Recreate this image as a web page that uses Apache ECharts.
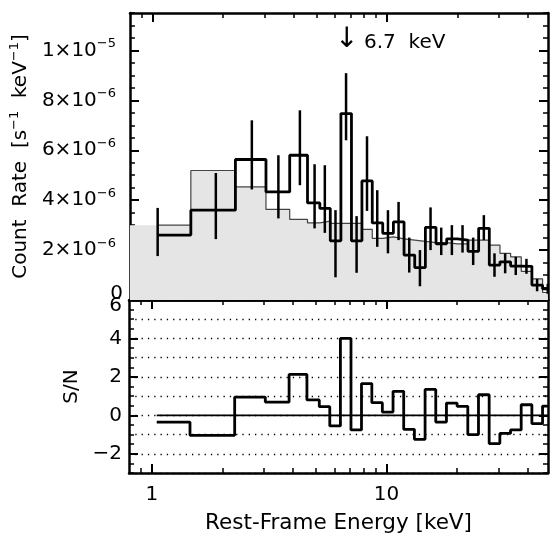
<!DOCTYPE html>
<html>
<head>
<meta charset="utf-8">
<script src="https://cdn.jsdelivr.net/npm/echarts@6/dist/echarts.min.js"></script>
<style>
  html, body { margin: 0; padding: 0; background: #fff; }
  #chart { width: 550px; height: 535px; }
</style>
</head>
<body>
<div id="chart"></div>
<script>
// bin centres, keV (histogram edges are the linear midpoints, IDL psym=10 style)
const energy = [1.05, 1.86, 2.65, 3.44, 4.25, 4.91, 5.43, 6.03, 6.69, 7.42,
  8.22, 9.09, 10.10, 11.21, 12.45, 13.83, 15.35, 17.05, 18.93, 21.02,
  23.34, 25.92, 28.78, 31.96, 35.48, 39.40, 43.75, 48.58]
// count rate, units of 1e-6 s^-1 keV^-1
const rate = [2.60, 3.60, 5.63, 4.33, 5.80, 3.89, 3.67, 2.37, 7.47, 2.37,
  4.77, 3.09, 2.67, 3.13, 1.80, 1.30, 2.91, 2.25, 2.45, 2.40,
  1.95, 2.87, 1.40, 1.53, 1.36, 1.35, 0.60, 0.45]
const rateLo = [1.76, 2.44, 4.43, 3.27, 4.60, 2.87, 2.69, 0.91, 6.40, 1.09,
  3.57, 2.13, 1.87, 2.40, 1.10, 0.55, 2.00, 1.80, 1.80, 1.90,
  1.40, 2.40, 0.93, 1.07, 1.00, 1.05, 0.35, 0.25]
const rateHi = [3.69, 5.09, 7.20, 5.80, 7.60, 5.44, 5.40, 3.60, 9.09, 3.36,
  6.56, 4.40, 3.60, 3.93, 2.50, 2.00, 3.71, 2.90, 3.00, 3.00,
  2.50, 3.40, 1.87, 1.87, 1.73, 1.65, 0.85, 0.65]
// model, same bins
const model = [3.00, 5.19, 4.53, 3.63, 3.23, 3.09, 3.16, 3.07, 3.07, 3.07,
  2.83, 2.47, 2.53, 2.45, 2.40, 2.35, 2.30, 2.30, 2.25, 2.25,
  2.40, 2.40, 2.20, 1.87, 1.73, 1.15, 0.85, 0.30]
// signal to noise per bin
const snr = [-0.35, -1.04, 0.95, 0.69, 2.13, 0.80, 0.45, -0.55, 4.00, -0.76,
  1.65, 0.66, 0.17, 1.25, -0.73, -1.25, 1.35, -0.35, 0.64, 0.47,
  -1.00, 1.07, -1.47, -0.94, -0.76, 0.55, -0.43, 0.48]

const xMajor = [1, 10]
const xMinor = [0.9, 2, 3, 4, 5, 6, 7, 8, 9, 20, 30, 40]
const rateTicks = [0, 2, 4, 6, 8, 10]
const snrTicks = [-2, 0, 2, 4, 6]

const X_MIN = 0.8, X_MAX = 48.7
const FONT = 'DejaVu Sans'

// histogram edges: midpoints between centres, first/last bins half width
function edges (x) {
  const e = [x[0]]
  for (let i = 1; i < x.length; i++) e.push((x[i - 1] + x[i]) / 2)
  e.push(x[x.length - 1])
  return e
}
function steps (x, y) {
  const e = edges(x)
  const pts = []
  y.forEach((v, i) => { pts.push([e[i], v], [e[i + 1], v]) })
  return pts
}

const modelFill = [[X_MIN, model[0]]].concat(steps(energy, model), [[X_MAX, model[model.length - 1]]])

function rateLabel (v) {
  if (v === 0) return '{z|0}'
  const val = v * 1e-6
  const ex = Math.floor(Math.log10(val) + 1e-9)
  const m = Math.round(val / Math.pow(10, ex))
  return '{b|' + m + '×10}{sl|−' + (-ex) + '}'
}
const rich = {
  b: { fontFamily: FONT, fontSize: 20, color: '#000', lineHeight: 26 },
  s: { fontFamily: FONT, fontSize: 13, color: '#000', verticalAlign: 'top', lineHeight: 13 },
  sl: { fontFamily: FONT, fontSize: 13, color: '#000', verticalAlign: 'top', lineHeight: 13, padding: [0, 7, 0, 0] },
  z: { fontFamily: FONT, fontSize: 20, color: '#000', padding: [0, 0, 12, 0] },
  d: { fontFamily: FONT, fontSize: 20, color: '#000', padding: [12, 0, 0, 0] }
}

const axLine = { show: true, onZero: false, lineStyle: { color: '#000', width: 2.5 } }
const noLine = { show: false, onZero: false }
function xAxes (grid, withLabel) {
  const base = { type: 'log', gridIndex: grid, min: X_MIN, max: X_MAX, splitLine: { show: false }, axisLabel: { show: false } }
  const major = { show: true, inside: true, length: 9, customValues: xMajor, lineStyle: { color: '#000', width: 2 } }
  const minor = { show: true, inside: true, length: 5, customValues: xMinor, lineStyle: { color: '#000', width: 1.5 } }
  const out = [
    Object.assign({}, base, { position: 'bottom', axisLine: axLine, axisTick: major }),
    Object.assign({}, base, { position: 'bottom', axisLine: noLine, axisTick: minor }),
    Object.assign({}, base, { position: 'top', axisLine: axLine, axisTick: major }),
    Object.assign({}, base, { position: 'top', axisLine: noLine, axisTick: minor })
  ]
  if (withLabel) {
    out[0].axisLabel = { show: true, customValues: xMajor, fontFamily: FONT, fontSize: 20, color: '#000', margin: 12 }
    out[0].name = 'Rest-Frame Energy [keV]'
    out[0].nameLocation = 'middle'
    out[0].nameGap = 39
    out[0].nameTextStyle = { fontFamily: FONT, fontSize: 21.5, color: '#000' }
  }
  return out
}
function yAxes (grid, min, max, ticks, minorStep) {
  const base = { type: 'value', gridIndex: grid, min: min, max: max, splitLine: { show: false }, axisLabel: { show: false } }
  const major = { show: true, inside: true, length: 9, customValues: ticks, lineStyle: { color: '#000', width: 2 } }
  const minor = { show: true, inside: true, length: 5, lineStyle: { color: '#000', width: 1.5 } }
  return [
    Object.assign({}, base, { position: 'left', axisLine: axLine, axisTick: major }),
    Object.assign({}, base, { position: 'left', interval: minorStep, axisLine: noLine, axisTick: minor }),
    Object.assign({}, base, { position: 'right', axisLine: axLine, axisTick: major }),
    Object.assign({}, base, { position: 'right', interval: minorStep, axisLine: noLine, axisTick: minor })
  ]
}

const xAxis = xAxes(0, false).concat(xAxes(1, true))
const yTop = yAxes(0, 0, 11.5, rateTicks, 0.5)
yTop[0].axisLabel = { show: true, customValues: rateTicks, formatter: rateLabel, rich: rich, margin: 7 }
yTop[0].name = '{n|Count  Rate  [s}{s|−1}{n|  keV}{s|−1}{n|]}'
yTop[0].nameLocation = 'middle'
yTop[0].nameGap = 78
yTop[0].nameTextStyle = { rich: { n: rich.b, s: rich.s } }
const yBot = yAxes(1, -3, 6, snrTicks, 0.5)
yBot[0].axisLabel = {
  show: true, customValues: snrTicks, margin: 7,
  formatter: v => v === 6 ? '{d|6}' : '{b|' + String(v).replace('-', '−') + '}', rich: rich
}
yBot[0].name = 'S/N'
yBot[0].nameLocation = 'middle'
yBot[0].nameGap = 43
yBot[0].nameTextStyle = { fontFamily: FONT, fontSize: 20, color: '#000' }
// dotted reference lines at every integer S/N
yBot.push({ type: 'value', gridIndex: 1, min: -3, max: 6, interval: 1, axisLine: noLine,
  axisTick: { show: false }, axisLabel: { show: false },
  splitLine: { show: true, lineStyle: { color: '#000', width: 1.3, type: [1.3, 5] } } })

const chart = echarts.init(document.getElementById('chart'), null, { renderer: 'canvas' })
chart.setOption({
  animation: false,
  backgroundColor: '#fff',
  grid: [
    { left: 129, right: 2, top: 13, height: 287 },
    { left: 129, right: 2, top: 300, height: 173 }
  ],
  xAxis: xAxis,
  yAxis: yTop.concat(yBot),
  graphic: [
    { type: 'text', left: 335, top: 26, style: { text: '↓', font: '28px ' + FONT, fill: '#000' } },
    { type: 'text', left: 364, top: 33, style: { text: '6.7  keV', font: '20px ' + FONT, fill: '#000' } }
  ],
  series: [
    { type: 'line', xAxisIndex: 0, yAxisIndex: 0, data: modelFill, symbol: 'none', silent: true,
      lineStyle: { width: 0 }, areaStyle: { color: '#e5e5e5', opacity: 1 }, z: 1 },
    { type: 'line', xAxisIndex: 0, yAxisIndex: 0, data: steps(energy, model), symbol: 'none',
      lineStyle: { color: '#444', width: 1.2 }, z: 2 },
    { type: 'custom', xAxisIndex: 0, yAxisIndex: 0, z: 3,
      data: energy.map((e, i) => [e, rateLo[i], rateHi[i]]),
      encode: { x: 0, y: [1, 2] },
      renderItem: (params, api) => {
        const a = api.coord([api.value(0), api.value(1)])
        const b = api.coord([api.value(0), api.value(2)])
        return { type: 'line', shape: { x1: a[0], y1: a[1], x2: b[0], y2: b[1] },
          style: { stroke: '#000', lineWidth: 2.5 } }
      } },
    { type: 'line', xAxisIndex: 0, yAxisIndex: 0, data: steps(energy, rate), symbol: 'none',
      lineStyle: { color: '#000', width: 2.8 }, z: 4 },
    { type: 'line', xAxisIndex: 4, yAxisIndex: 4, data: [[energy[0], 0], [X_MAX, 0]], symbol: 'none',
      lineStyle: { color: '#000', width: 1.8 }, z: 3 },
    { type: 'line', xAxisIndex: 4, yAxisIndex: 4, data: steps(energy, snr), symbol: 'none',
      lineStyle: { color: '#000', width: 2.8 }, z: 4 }
  ]
})
</script>
</body>
</html>
